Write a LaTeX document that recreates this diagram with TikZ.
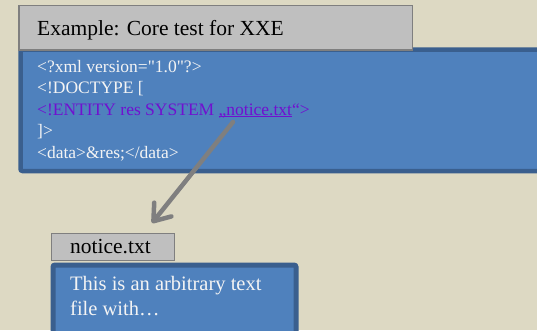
\documentclass[tikz,border=0pt]{standalone}
\usepackage{fontspec}
\setmainfont{Liberation Serif}[Ligatures=TeXOff]
\usetikzlibrary{arrows.meta}

\definecolor{paper}{HTML}{DDD9C3}
\definecolor{panelblue}{HTML}{4F81BD}
\definecolor{paneledge}{HTML}{3A5F8E}
\definecolor{tabgray}{HTML}{BFBFBF}
\definecolor{tabedge}{HTML}{7F7F7F}
\definecolor{entity}{RGB}{112,16,208}
\definecolor{codewhite}{HTML}{F4F4F4}

% hyperlink-style underline sitting just below the baseline
\newcommand\linkline[1]{\setbox0\hbox{#1}\rlap{\rule[-1.6pt]{\wd0}{0.9pt}}\box0}

\tikzset{
  panel/.style={draw=paneledge, fill=panelblue, rounded corners=2pt,
                anchor=north west, inner sep=0pt},
  tab/.style={draw=tabedge, fill=tabgray, line width=1.5pt,
              anchor=north west, inner sep=0pt},
  tabtext/.style={anchor=base west, inner sep=0pt, text=black,
                  font=\fontsize{21.5}{25}\selectfont},
  codeline/.style={anchor=base west, inner sep=0pt, text=codewhite,
                   font=\fontsize{17.5}{21.5}\selectfont},
  bodyline/.style={anchor=base west, inner sep=0pt, text=codewhite,
                   font=\fontsize{20.5}{25}\selectfont},
  link/.style={draw=tabedge, line width=4.5pt, line cap=round,
               -{Straight Barb[length=15pt, width=22pt, round]}}
}

\begin{document}
\begin{tikzpicture}[x=1pt, y=-1pt]
  \useasboundingbox[fill=paper] (0,0) rectangle (537,330);

  % XML sample panel with its title tab
  \node[panel, line width=4.5pt, minimum width=541pt, minimum height=121.5pt]
    (codebox) at (18.25,47.25) {};
  \node[tab, minimum width=393.5pt, minimum height=44.5pt]
    (titletab) at (18,4.75) {};
  \node[tabtext] (title) at (37,35) {Example: Core test for XXE};

  \node[codeline] (l1) at (37,72)    {<?xml version="1.0"?>};
  \node[codeline] (l2) at (37,93.5)  {<!DOCTYPE [};
  \node[codeline, text=entity] (l3) at (37,115)
    {<!ENTITY res SYSTEM \linkline{„notice.txt}“>};
  \node[codeline] (l4) at (37,136.5) {]>};
  \node[codeline] (l5) at (37,158)   {<data>\&res;</data>};

  % referenced file panel with its name tab
  \node[tab, minimum width=123pt, minimum height=27pt]
    (filetab) at (50.5,232.5) {};
  \node[tabtext] (filename) at (70,253) {notice.txt};
  \node[panel, line width=5pt, minimum width=243pt, minimum height=85pt]
    (filebox) at (50.5,262.5) {};
  \node[bodyline] (b1) at (70,290) {This is an arbitrary text};
  \node[bodyline] (b2) at (70,315) {file with…};

  % entity reference pointing at the file
  \coordinate (refstart) at (233,122);
  \coordinate (reftip) at (152,223);
  \draw[link] (refstart) -- (reftip);
\end{tikzpicture}
\end{document}
